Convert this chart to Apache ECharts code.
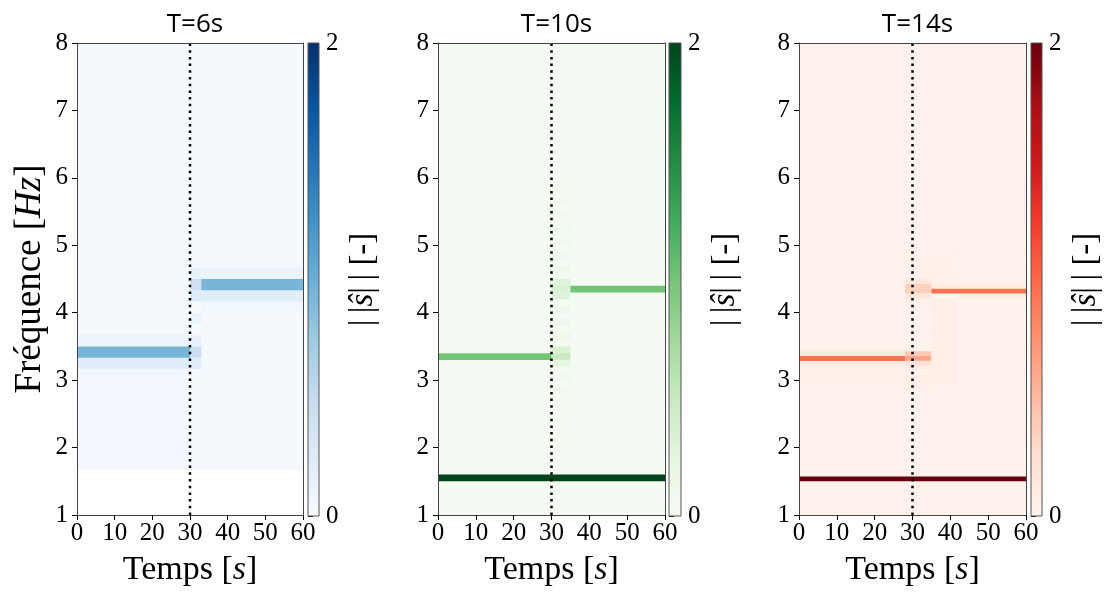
<!DOCTYPE html>
<html><head><meta charset="utf-8">
<script src="https://cdn.jsdelivr.net/npm/echarts@6/dist/echarts.min.js"></script>
<style>html,body{margin:0;padding:0;background:#fff}#c{width:1109px;height:592px}</style>
</head><body><div id="c"></div>
<script>
// ---------------- data ----------------
const PANEL_TITLES = ['T=6s', 'T=10s', 'T=14s'];
const TIME_RANGE = [0, 60];
const TIME_TICK_STEP = 10;
const FREQ_RANGE = [1, 8];
const FREQ_TICK_STEP = 1;
const CBAR_RANGE = [0, 2];
const CBAR_TICK_STEP = 2;
const SWITCH_TIME = 30;
const X_LABEL = 'Temps [{i|s}]';
const Y_LABEL = 'Fréquence [{i|Hz}]';
const CBAR_LABEL = '|\u2009|{i|ŝ}|\u2009| [-]';

const BLUES  = ['#f7fbff','#deebf7','#c6dbef','#9ecae1','#6baed6','#4292c6','#2171b5','#08519c','#08306b'];
const GREENS = ['#f7fcf5','#e5f5e0','#c7e9c0','#a1d99b','#74c476','#41ab5d','#238b45','#006d2c','#00441b'];
const REDS   = ['#fff5f0','#fee0d2','#fcbba1','#fc9272','#fb6a4a','#ef3b2c','#cb181d','#a50f15','#67000d'];

// cells: [t_start, t_end, f_start, f_end, |s|]  (later cells drawn over earlier ones)
const CELLS_T6 = [
  [0, 60, 1.667, 8, 0.03],
  [0, 30, 1.667, 3.167, 0.05],
  [0, 30, 3.5, 3.667, 0.12],
  [0, 33, 3.167, 3.333, 0.22],
  [0, 30, 3.333, 3.5, 0.94],
  [30, 33, 3.333, 3.5, 0.46],
  [30, 33, 3.5, 3.667, 0.15],
  [30, 33, 3.667, 3.833, 0.0],
  [30, 33, 3.833, 4.0, 0.12],
  [30, 33, 4.0, 4.167, 0.0],
  [30, 33, 4.167, 4.333, 0.24],
  [30, 33, 4.333, 4.5, 0.42],
  [30, 33, 4.5, 4.667, 0.14],
  [33, 60, 4.5, 4.667, 0.12],
  [33, 60, 4.0, 4.167, 0.07],
  [33, 60, 4.167, 4.333, 0.22],
  [33, 60, 4.333, 4.5, 0.94]
];
const CELLS_T10 = [
  [0, 60, 1, 8, 0.035],
  [0, 60, 1.5, 1.6, 2.0],
  [0, 30, 3.3, 3.4, 1.0],
  [30, 35, 3.4, 3.5, 0.34],
  [30, 35, 3.3, 3.4, 0.48],
  [30, 35, 3.2, 3.3, 0.24],
  [30, 35, 4.4, 4.5, 0.3],
  [30, 35, 4.3, 4.4, 0.34],
  [30, 35, 4.2, 4.3, 0.3],
  [35, 60, 4.3, 4.4, 1.0],
  [30, 35, 5.8, 5.9, 0.06],
  [30, 35, 5.6, 5.7, 0.07],
  [30, 35, 5.4, 5.5, 0.07],
  [30, 35, 5.2, 5.3, 0.08],
  [30, 35, 5.0, 5.1, 0.09],
  [30, 35, 4.8, 4.9, 0.1],
  [30, 35, 4.6, 4.7, 0.12],
  [30, 35, 4.0, 4.1, 0.14],
  [30, 35, 3.8, 3.9, 0.12],
  [30, 35, 3.6, 3.7, 0.14],
  [30, 35, 3.0, 3.1, 0.1],
  [30, 35, 2.8, 2.9, 0.07],
  [30, 35, 2.6, 2.7, 0.06],
  [30, 35, 2.4, 2.5, 0.06],
  [30, 35, 2.2, 2.3, 0.05],
  [30, 35, 2.0, 2.1, 0.05]
];
const CELLS_T14 = [
  [0, 60, 1, 8, 0.035],
  [0, 60, 1.5, 1.5714, 2.0],
  [0, 28, 2.8571, 3.2143, 0.055],
  [0, 28, 3.3571, 3.4286, 0.14],
  [0, 28, 3.2143, 3.2857, 0.11],
  [0, 28, 3.2857, 3.3571, 0.95],
  [28, 35, 2.8571, 3.2143, 0.07],
  [28, 35, 3.0714, 3.1429, 0.02],
  [28, 35, 3.5714, 3.6429, 0.02],
  [28, 35, 3.8571, 3.9286, 0.02],
  [28, 35, 3.3571, 3.4286, 0.4],
  [28, 35, 3.2857, 3.3571, 0.62],
  [28, 35, 3.2143, 3.2857, 0.2],
  [35, 42, 2.9286, 4.2143, 0.07],
  [28, 42, 4.5, 4.9286, 0.055],
  [28, 35, 4.4286, 4.5, 0.16],
  [28, 35, 4.3571, 4.4286, 0.34],
  [28, 35, 4.2857, 4.3571, 0.36],
  [28, 35, 4.2143, 4.2857, 0.18],
  [35, 42, 4.2143, 4.2857, 0.0],
  [42, 60, 4.2143, 4.2857, 0.09],
  [35, 60, 4.3571, 4.4286, 0.11],
  [35, 60, 4.2857, 4.3571, 0.95]
];
const PANEL_CELLS = [CELLS_T6, CELLS_T10, CELLS_T14];
const PANEL_CMAPS = [BLUES, GREENS, REDS];

// ---------------- layout ----------------
const PLOT_TOP = 43, PLOT_H = 473;
const PLOT_LEFT = [77, 438, 799];
const PLOT_W = [226, 227, 227];
const CB_LEFT = [308, 669, 1031];
const CB_W = [11, 12, 11];
const SERIF = '"Liberation Serif", "DejaVu Serif", serif';
const SANS = '"Open Sans", "Noto Sans", sans-serif';
const FRAME = '#444';

const grid = [], xAxis = [], yAxis = [], series = [], visualMap = [], title = [];
const heatSeries = [], lineSeries = [], cbSeries = [];

function renderCell(params, api) {
  const p0 = api.coord([api.value(0), api.value(3)]);
  const p1 = api.coord([api.value(1), api.value(2)]);
  return {
    type: 'rect',
    shape: { x: p0[0], y: p0[1], width: p1[0] - p0[0], height: p1[1] - p0[1] },
    style: { fill: api.visual('color') }
  };
}
function makeCbarRender(cmap) {
  return function (params, api) {
    const p0 = api.coord([0, CBAR_RANGE[1]]);
    const p1 = api.coord([1, CBAR_RANGE[0]]);
    const stops = cmap.map((c, i) => ({ offset: i / (cmap.length - 1), color: c }));
    return {
      type: 'rect',
      shape: { x: p0[0], y: p0[1], width: p1[0] - p0[0], height: p1[1] - p0[1] },
      style: { fill: new echarts.graphic.LinearGradient(0, 1, 0, 0, stops), stroke: '#555', lineWidth: 1 }
    };
  };
}

for (let p = 0; p < 3; p++) {
  const gPlot = grid.length;
  grid.push({ left: PLOT_LEFT[p], top: PLOT_TOP, width: PLOT_W[p], height: PLOT_H, containLabel: false });
  const gCb = grid.length;
  grid.push({ left: CB_LEFT[p], top: PLOT_TOP, width: CB_W[p], height: PLOT_H, containLabel: false });

  const xMain = xAxis.length;
  xAxis.push({
    type: 'value', gridIndex: gPlot, min: TIME_RANGE[0], max: TIME_RANGE[1], interval: TIME_TICK_STEP,
    position: 'bottom', z: 8,
    axisLine: { show: true, onZero: false, lineStyle: { color: FRAME, width: 1 } },
    axisTick: { show: true, length: 5, lineStyle: { color: '#000' } },
    axisLabel: { color: '#000', fontFamily: SERIF, fontSize: 25, margin: 6 },
    splitLine: { show: false },
    name: X_LABEL, nameLocation: 'middle', nameGap: 38,
    nameTextStyle: { color: '#000', fontFamily: SERIF, fontSize: 34,
      rich: { i: { fontStyle: 'italic', fontFamily: SERIF, fontSize: 34, color: '#000' } } }
  });
  xAxis.push({
    type: 'value', gridIndex: gPlot, min: TIME_RANGE[0], max: TIME_RANGE[1], position: 'top', z: 8,
    axisLine: { show: true, onZero: false, lineStyle: { color: FRAME, width: 1 } },
    axisTick: { show: false }, axisLabel: { show: false }, splitLine: { show: false }
  });
  const xCb = xAxis.length;
  xAxis.push({ type: 'value', gridIndex: gCb, min: 0, max: 1, show: false });

  const yMain = yAxis.length;
  const yMainAxis = {
    type: 'value', gridIndex: gPlot, min: FREQ_RANGE[0], max: FREQ_RANGE[1], interval: FREQ_TICK_STEP,
    position: 'left', z: 8,
    axisLine: { show: true, onZero: false, lineStyle: { color: FRAME, width: 1 } },
    axisTick: { show: true, length: 5, lineStyle: { color: '#000' } },
    axisLabel: { color: '#000', fontFamily: SERIF, fontSize: 25, margin: 9 },
    splitLine: { show: false }
  };
  if (p === 0) {
    Object.assign(yMainAxis, {
      name: Y_LABEL, nameLocation: 'middle', nameGap: 28, nameRotate: 90,
      nameTextStyle: { color: '#000', fontFamily: SERIF, fontSize: 37,
        rich: { i: { fontStyle: 'italic', fontFamily: SERIF, fontSize: 37, color: '#000' } } }
    });
  }
  yAxis.push(yMainAxis);
  yAxis.push({
    type: 'value', gridIndex: gPlot, min: FREQ_RANGE[0], max: FREQ_RANGE[1], position: 'right', z: 8,
    axisLine: { show: true, onZero: false, lineStyle: { color: FRAME, width: 1 } },
    axisTick: { show: false }, axisLabel: { show: false }, splitLine: { show: false }
  });
  const yCb = yAxis.length;
  yAxis.push({
    type: 'value', gridIndex: gCb, min: CBAR_RANGE[0], max: CBAR_RANGE[1], interval: CBAR_TICK_STEP,
    position: 'right',
    axisLine: { show: false }, splitLine: { show: false },
    axisTick: { show: true, length: 5, lineStyle: { color: '#000' } },
    axisLabel: { color: '#000', fontFamily: SERIF, fontSize: 25, margin: 7 },
    name: CBAR_LABEL, nameLocation: 'middle', nameGap: 28, nameRotate: 90,
    nameTextStyle: { color: '#000', fontFamily: SERIF, fontSize: 33,
      rich: { i: { fontStyle: 'italic', fontFamily: SERIF, fontSize: 33, color: '#000' } } }
  });

  heatSeries.push({
    type: 'custom', name: PANEL_TITLES[p], xAxisIndex: xMain, yAxisIndex: yMain,
    renderItem: renderCell, clip: true, silent: true,
    dimensions: ['t0', 't1', 'f0', 'f1', 'amp'],
    encode: { x: [0, 1], y: [2, 3] },
    data: PANEL_CELLS[p]
  });
  lineSeries.push({
    type: 'line', xAxisIndex: xMain, yAxisIndex: yMain, symbol: 'none', silent: true, z: 5,
    lineStyle: { color: '#000', width: 2.5, type: [2.5, 4.2], cap: 'butt' },
    data: [[SWITCH_TIME, FREQ_RANGE[0]], [SWITCH_TIME, FREQ_RANGE[1]]]
  });
  cbSeries.push({
    type: 'custom', xAxisIndex: xCb, yAxisIndex: yCb, silent: true,
    renderItem: makeCbarRender(PANEL_CMAPS[p]),
    data: [[0, CBAR_RANGE[0]]]
  });
  title.push({
    text: PANEL_TITLES[p], left: PLOT_LEFT[p] + PLOT_W[p] / 2, top: 7, textAlign: 'center',
    textStyle: { fontFamily: SANS, fontSize: 26, fontWeight: 'normal', color: '#000' }
  });
}
series.push(...heatSeries, ...lineSeries, ...cbSeries);
for (let p = 0; p < 3; p++) {
  visualMap.push({
    type: 'continuous', show: false, seriesIndex: p, dimension: 4,
    min: CBAR_RANGE[0], max: CBAR_RANGE[1], inRange: { color: PANEL_CMAPS[p] }
  });
}

const chart = echarts.init(document.getElementById('c'), null, { renderer: 'canvas' });
chart.setOption({ animation: false, backgroundColor: '#fff', title, grid, xAxis, yAxis, visualMap, series });
</script></body></html>
